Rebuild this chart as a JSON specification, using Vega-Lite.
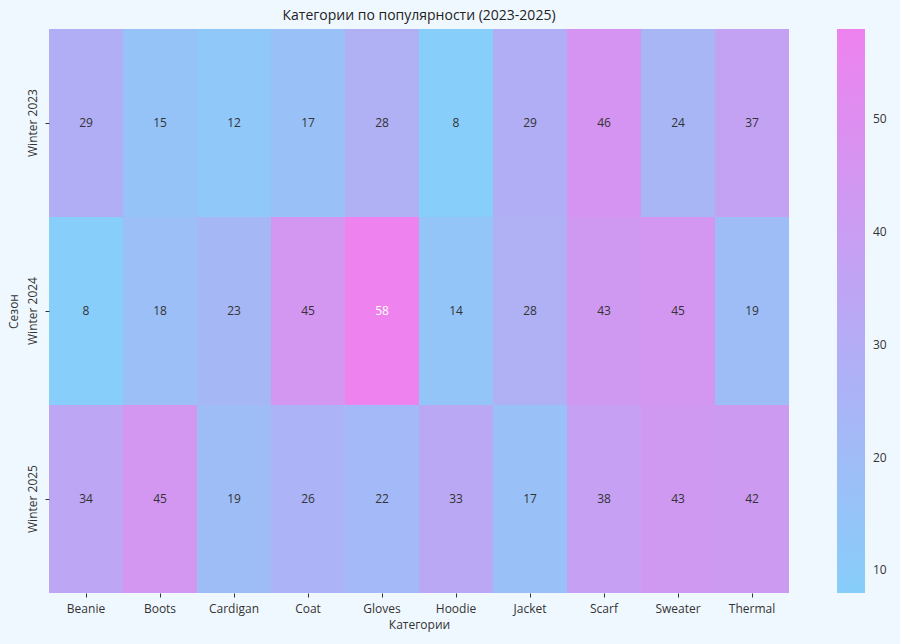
{
  "$schema": "https://vega.github.io/schema/vega-lite/v6.json",
  "autosize": {"type": "none"},
  "padding": {"left": 49, "top": 29, "right": 111, "bottom": 51},
  "width": 740,
  "height": 564,
  "background": "#f0f8ff",
  "config": {
    "font": "Open Sans",
    "view": {"stroke": null},
    "axis": {"labelColor": "#333333", "titleColor": "#333333", "tickColor": "#333333", "domain": false, "labelFontSize": 12, "titleFontSize": 12, "titleFontWeight": "normal", "labelFont": "Open Sans", "titleFont": "Open Sans"},
    "title": {"fontSize": 14, "fontWeight": "normal", "color": "#222222", "font": "Open Sans"}
  },
  "title": {"text": "Категории по популярности (2023-2025)", "anchor": "middle", "offset": 6},
  "data": {
    "values": [
      {"season": "Winter 2023", "category": "Beanie", "value": 29},
      {"season": "Winter 2023", "category": "Boots", "value": 15},
      {"season": "Winter 2023", "category": "Cardigan", "value": 12},
      {"season": "Winter 2023", "category": "Coat", "value": 17},
      {"season": "Winter 2023", "category": "Gloves", "value": 28},
      {"season": "Winter 2023", "category": "Hoodie", "value": 8},
      {"season": "Winter 2023", "category": "Jacket", "value": 29},
      {"season": "Winter 2023", "category": "Scarf", "value": 46},
      {"season": "Winter 2023", "category": "Sweater", "value": 24},
      {"season": "Winter 2023", "category": "Thermal", "value": 37},
      {"season": "Winter 2024", "category": "Beanie", "value": 8},
      {"season": "Winter 2024", "category": "Boots", "value": 18},
      {"season": "Winter 2024", "category": "Cardigan", "value": 23},
      {"season": "Winter 2024", "category": "Coat", "value": 45},
      {"season": "Winter 2024", "category": "Gloves", "value": 58},
      {"season": "Winter 2024", "category": "Hoodie", "value": 14},
      {"season": "Winter 2024", "category": "Jacket", "value": 28},
      {"season": "Winter 2024", "category": "Scarf", "value": 43},
      {"season": "Winter 2024", "category": "Sweater", "value": 45},
      {"season": "Winter 2024", "category": "Thermal", "value": 19},
      {"season": "Winter 2025", "category": "Beanie", "value": 34},
      {"season": "Winter 2025", "category": "Boots", "value": 45},
      {"season": "Winter 2025", "category": "Cardigan", "value": 19},
      {"season": "Winter 2025", "category": "Coat", "value": 26},
      {"season": "Winter 2025", "category": "Gloves", "value": 22},
      {"season": "Winter 2025", "category": "Hoodie", "value": 33},
      {"season": "Winter 2025", "category": "Jacket", "value": 17},
      {"season": "Winter 2025", "category": "Scarf", "value": 38},
      {"season": "Winter 2025", "category": "Sweater", "value": 43},
      {"season": "Winter 2025", "category": "Thermal", "value": 42}
    ]
  },
  "encoding": {
    "x": {"field": "category", "type": "nominal", "title": "Категории", "axis": {"labelAngle": 0, "tickSize": 4, "labelPadding": 6, "titlePadding": 5}},
    "y": {"field": "season", "type": "nominal", "title": "Сезон", "axis": {"labelAngle": -90, "labelAlign": "center", "labelBaseline": "bottom", "tickSize": 4, "labelPadding": 6, "titlePadding": 6}}
  },
  "layer": [
    {
      "mark": {"type": "rect"},
      "encoding": {
        "color": {
          "field": "value", "type": "quantitative",
          "scale": {"domain": [8, 58], "range": ["#87cefa", "#ee82ee"], "interpolate": "rgb"},
          "legend": {
            "type": "gradient", "direction": "vertical",
            "title": null, "orient": "none", "legendX": 788, "legendY": 0,
            "gradientLength": 564, "gradientThickness": 28, "gradientStrokeWidth": 0,
            "values": [10, 20, 30, 40, 50], "labelFontSize": 12, "labelColor": "#333333", "labelOffset": 8, "labelFont": "Open Sans"
          }
        }
      }
    },
    {
      "mark": {"type": "text", "fontSize": 12},
      "encoding": {
        "text": {"field": "value", "type": "quantitative"},
        "color": {"condition": {"test": "datum.value > 52", "value": "#ffffff"}, "value": "#333333"}
      }
    }
  ]
}
